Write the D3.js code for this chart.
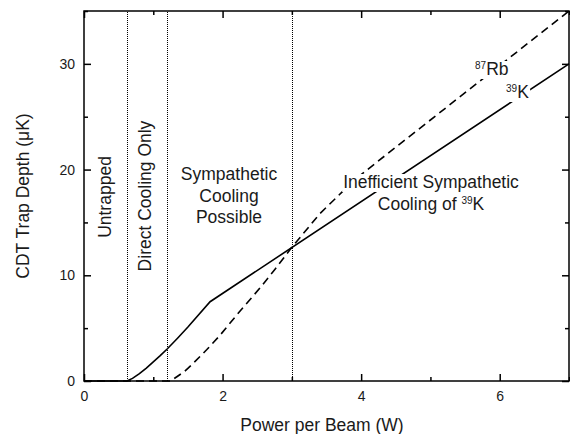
<!DOCTYPE html>
<html>
<head>
<meta charset="utf-8">
<script src="https://cdn.jsdelivr.net/npm/d3@7"></script>
<style>
  body { margin: 0; background: #fff; }
  svg { display: block; font-family: "Liberation Sans", Arial, sans-serif; }
  text { fill: #1a1a1a; }
</style>
</head>
<body>
<svg id="chart" width="570" height="434"></svg>
<script>
// trap depth for 39K (solid) and 87Rb (dashed)
const powerK = [0, 0.62, 0.7, 0.8, 0.9, 1.0, 1.1, 1.2, 1.35, 1.5, 1.82, 7.0];
const depthK = [0, 0, 0.25, 0.7, 1.22, 1.8, 2.4, 3.03, 4.05, 5.1, 7.5, 30.0];
const powerRb = [0, 1.25, 1.34, 1.45, 1.55, 1.77, 1.96, 2.25, 2.54, 2.76, 3.0, 3.4, 3.9, 4.4, 7.0];
const depthRb = [0, 0, 0.4, 0.9, 1.5, 2.95, 4.3, 6.6, 8.8, 10.6, 12.65, 15.8, 19.0, 21.6, 35.0];

// regime boundaries (W)
const boundaries = [0.62, 1.2, 3.0];

const xMajor = [0, 2, 4, 6];
const xMinor = [1, 3, 5, 7];
const yMajor = [0, 10, 20, 30];
const yMinor = [5, 15, 25, 35];

const margin = { top: 11, right: 1, bottom: 53, left: 84 };
const width = 570 - margin.left - margin.right;
const height = 434 - margin.top - margin.bottom;
const fontSize = 17.5;

const svg = d3.select("#chart");
const g = svg.append("g").attr("transform", `translate(${margin.left},${margin.top})`);

const x = d3.scaleLinear().domain([0, 7]).range([0, width]);
const y = d3.scaleLinear().domain([0, 35]).range([height, 0]);

// region boundaries
g.selectAll("line.bound")
  .data(boundaries)
  .join("line")
  .attr("class", "bound")
  .attr("x1", (d) => Math.round(x(d)) + 0.5)
  .attr("x2", (d) => Math.round(x(d)) + 0.5)
  .attr("y1", y(0))
  .attr("y2", y(35))
  .attr("stroke", "#000")
  .attr("stroke-width", 1)
  .attr("stroke-dasharray", "1,1");

const line = d3.line().x((d) => x(d[0])).y((d) => y(d[1]));

g.append("path")
  .datum(d3.zip(powerRb, depthRb))
  .attr("d", line)
  .attr("fill", "none")
  .attr("stroke", "#000")
  .attr("stroke-width", 1.6)
  .attr("stroke-dasharray", "8,5");

g.append("path")
  .datum(d3.zip(powerK, depthK))
  .attr("d", line)
  .attr("fill", "none")
  .attr("stroke", "#000")
  .attr("stroke-width", 1.6);

// axes: ticks point inward on all four sides
function styleAxis(sel) {
  sel.select(".domain").remove();
  sel.selectAll(".tick line").attr("stroke", "#000").attr("stroke-width", 1.5);
  sel.selectAll(".tick text").attr("font-size", 14).attr("fill", "#1a1a1a");
}

g.append("g").attr("transform", `translate(0,${height})`)
  .call(d3.axisBottom(x).tickValues(xMajor).tickSize(-7).tickPadding(10).tickFormat(d3.format("d")))
  .call(styleAxis);
g.append("g").attr("transform", `translate(0,${height})`)
  .call(d3.axisBottom(x).tickValues(xMinor).tickSize(-4).tickFormat(""))
  .call(styleAxis);
g.append("g")
  .call(d3.axisTop(x).tickValues(xMajor).tickSize(-7).tickFormat(""))
  .call(styleAxis);
g.append("g")
  .call(d3.axisTop(x).tickValues(xMinor).tickSize(-4).tickFormat(""))
  .call(styleAxis);

g.append("g")
  .call(d3.axisLeft(y).tickValues(yMajor).tickSize(-7).tickPadding(9).tickFormat(d3.format("d")))
  .call(styleAxis);
g.append("g")
  .call(d3.axisLeft(y).tickValues(yMinor).tickSize(-4).tickFormat(""))
  .call(styleAxis);
g.append("g").attr("transform", `translate(${width},0)`)
  .call(d3.axisRight(y).tickValues(yMajor).tickSize(-7).tickFormat(""))
  .call(styleAxis);
g.append("g").attr("transform", `translate(${width},0)`)
  .call(d3.axisRight(y).tickValues(yMinor).tickSize(-4).tickFormat(""))
  .call(styleAxis);

g.append("rect")
  .attr("width", width)
  .attr("height", height)
  .attr("fill", "none")
  .attr("stroke", "#000")
  .attr("stroke-width", 1.5);

// axis titles
svg.append("text")
  .attr("x", 322)
  .attr("y", 431)
  .attr("text-anchor", "middle")
  .attr("font-size", fontSize)
  .text("Power per Beam (W)");

svg.append("text")
  .attr("transform", `translate(29,${margin.top + height / 2}) rotate(-90)`)
  .attr("text-anchor", "middle")
  .attr("font-size", fontSize)
  .text("CDT Trap Depth (\u03bcK)");

// annotation labels, each line with a tight white backing box
function label(px, py, lines, anchor = "middle", rotate = 0) {
  const grp = svg.append("g").attr("transform", `translate(${px},${py}) rotate(${rotate})`);
  lines.forEach((parts, i) => {
    const row = grp.append("g");
    const txt = row.append("text")
      .attr("text-anchor", anchor)
      .attr("font-size", fontSize)
      .attr("x", 0)
      .attr("y", i * 21.5);
    parts.forEach((p, j) => {
      const ts = txt.append("tspan").text(p.t);
      if (p.sup) ts.attr("font-size", 10).attr("dy", -6);
      else if (j > 0 && parts[j - 1].sup) ts.attr("dy", 6);
    });
    const bb = txt.node().getBBox();
    row.insert("rect", "text")
      .attr("x", bb.x - 1)
      .attr("y", i * 21.5 - 14)
      .attr("width", bb.width + 2)
      .attr("height", 18)
      .attr("fill", "#fff");
  });
}

label(111, 197, [[{ t: "Untrapped" }]], "middle", -90);
label(151, 196, [[{ t: "Direct Cooling Only" }]], "middle", -90);
label(229, 180, [[{ t: "Sympathetic" }], [{ t: "Cooling" }], [{ t: "Possible" }]]);
label(431, 188, [[{ t: "Inefficient Sympathetic" }], [{ t: "Cooling of " }, { t: "39", sup: true }, { t: "K" }]]);
label(475, 75, [[{ t: "87", sup: true }, { t: "Rb" }]], "start");
label(506, 98, [[{ t: "39", sup: true }, { t: "K" }]], "start");
</script>
</body>
</html>
